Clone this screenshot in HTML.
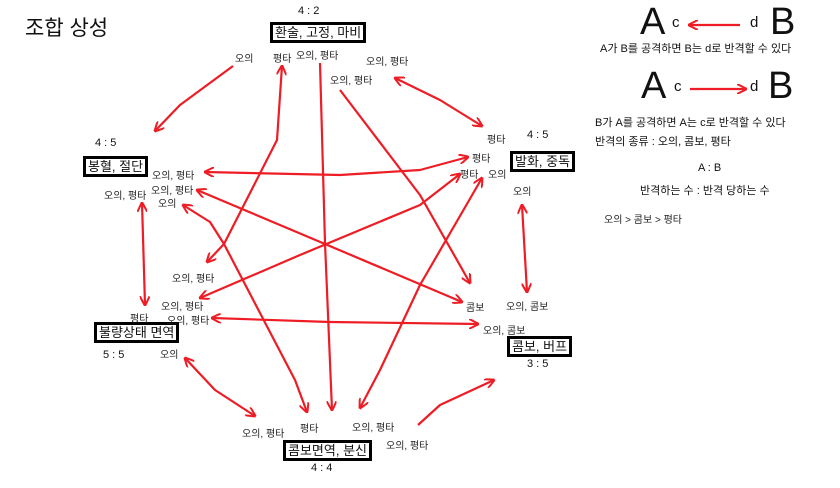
<!DOCTYPE html>
<html><head><meta charset="utf-8"><style>
body{margin:0;background:#fff;width:840px;height:488px;overflow:hidden;position:relative;font-family:"Liberation Sans","Noto Sans CJK KR","NanumGothic",sans-serif;color:#111}
.t{position:absolute;white-space:nowrap}
.s{font-size:10px;color:#222}
.box{position:absolute;border:3px solid #000;font-size:13px;padding:0 2px;line-height:15px;white-space:nowrap;background:#fff}
.r{font-size:11px}
</style></head><body>
<svg width="840" height="488" style="position:absolute;left:0;top:0">
<defs><marker id="h" viewBox="0 0 10 10" refX="9" refY="5" markerWidth="10" markerHeight="10" orient="auto-start-reverse" markerUnits="userSpaceOnUse"><polyline points="0,0 10,5 0,10" fill="none" stroke="#ee1c24" stroke-width="2"/></marker></defs>
<g fill="none" stroke="#ee1c24" stroke-width="2.2" stroke-linejoin="round">
<polyline points="233,66 180,105 155,131" marker-end="url(#h)"/>
<polyline points="207,262 224,244 277,140 282,66" marker-start="url(#h)" marker-end="url(#h)"/>
<polyline points="320,63 325,243 332,410" marker-end="url(#h)"/>
<polyline points="340,90 420,195 470,283" marker-end="url(#h)"/>
<polyline points="197,190 325,244 462,302" marker-start="url(#h)" marker-end="url(#h)"/>
<polyline points="200,298 300,255 420,205 460,174" marker-start="url(#h)" marker-end="url(#h)"/>
<polyline points="183,205 210,222 224,244 295,380 307,412" marker-start="url(#h)" marker-end="url(#h)"/>
<polyline points="205,172 340,175 420,170 468,157" marker-start="url(#h)" marker-end="url(#h)"/>
<polyline points="395,78 440,100 482,126" marker-start="url(#h)" marker-end="url(#h)"/>
<polyline points="142,203 145,305" marker-start="url(#h)" marker-end="url(#h)"/>
<polyline points="522,205 527,292" marker-start="url(#h)" marker-end="url(#h)"/>
<polyline points="360,408 380,370 420,285 482,178" marker-start="url(#h)" marker-end="url(#h)"/>
<polyline points="212,318 330,322 478,324" marker-start="url(#h)" marker-end="url(#h)"/>
<polyline points="185,358 215,390 255,416" marker-start="url(#h)" marker-end="url(#h)"/>
<polyline points="418,425 440,405 494,380" marker-end="url(#h)"/>
<polyline points="740,25 689,25" marker-end="url(#h)"/>
<polyline points="690,89 746,89" marker-end="url(#h)"/>
</g></svg>

<div class="t" style="left:25px;top:12px;font-size:21px">조합 상성</div>

<div class="t r" style="left:298px;top:5px">4 : 2</div>
<div class="box" style="left:270px;top:22px">환술, 고정, 마비</div>
<div class="t r" style="left:95px;top:137px">4 : 5</div>
<div class="box" style="left:83px;top:156px">봉혈, 절단</div>
<div class="t r" style="left:527px;top:129px">4 : 5</div>
<div class="box" style="left:510px;top:151px">발화, 중독</div>
<div class="box" style="left:94px;top:322px">불량상태 면역</div>
<div class="t r" style="left:103px;top:349px">5 : 5</div>
<div class="box" style="left:507px;top:336px">콤보, 버프</div>
<div class="t r" style="left:527px;top:358px">3 : 5</div>
<div class="box" style="left:283px;top:440px">콤보면역, 분신</div>
<div class="t r" style="left:311px;top:462px">4 : 4</div>

<div class="t s" style="left:235px;top:50px">오의</div>
<div class="t s" style="left:273px;top:50px">평타</div>
<div class="t s" style="left:296px;top:47px">오의, 평타</div>
<div class="t s" style="left:366px;top:53px">오의, 평타</div>
<div class="t s" style="left:330px;top:72px">오의, 평타</div>
<div class="t s" style="left:152px;top:167px">오의, 평타</div>
<div class="t s" style="left:151px;top:182px">오의, 평타</div>
<div class="t s" style="left:158px;top:195px">오의</div>
<div class="t s" style="left:104px;top:187px">오의, 평타</div>
<div class="t s" style="left:487px;top:131px">평타</div>
<div class="t s" style="left:472px;top:150px">평타</div>
<div class="t s" style="left:460px;top:166px">평타</div>
<div class="t s" style="left:488px;top:166px">오의</div>
<div class="t s" style="left:513px;top:183px">오의</div>
<div class="t s" style="left:172px;top:270px">오의, 평타</div>
<div class="t s" style="left:161px;top:298px">오의, 평타</div>
<div class="t s" style="left:167px;top:312px">오의, 평타</div>
<div class="t s" style="left:130px;top:310px">평타</div>
<div class="t s" style="left:160px;top:346px">오의</div>
<div class="t s" style="left:466px;top:299px">콤보</div>
<div class="t s" style="left:506px;top:298px">오의, 콤보</div>
<div class="t s" style="left:483px;top:322px">오의, 콤보</div>
<div class="t s" style="left:242px;top:425px">오의, 평타</div>
<div class="t s" style="left:300px;top:420px">평타</div>
<div class="t s" style="left:352px;top:419px">오의, 평타</div>
<div class="t s" style="left:386px;top:437px">오의, 평타</div>

<div class="t" style="left:640px;top:2px;font-size:38px;line-height:40px">A</div>
<div class="t" style="left:672px;top:14px;font-size:15px">c</div>
<div class="t" style="left:750px;top:14px;font-size:15px">d</div>
<div class="t" style="left:770px;top:2px;font-size:38px;line-height:40px">B</div>
<div class="t r" style="left:600px;top:40px">A가 B를 공격하면 B는 d로 반격할 수 있다</div>
<div class="t" style="left:641px;top:66px;font-size:38px;line-height:40px">A</div>
<div class="t" style="left:674px;top:78px;font-size:15px">c</div>
<div class="t" style="left:750px;top:78px;font-size:15px">d</div>
<div class="t" style="left:768px;top:66px;font-size:38px;line-height:40px">B</div>
<div class="t r" style="left:595px;top:114px">B가 A를 공격하면 A는 c로 반격할 수 있다</div>
<div class="t r" style="left:595px;top:133px">반격의 종류 : 오의, 콤보, 평타</div>
<div class="t r" style="left:698px;top:162px">A : B</div>
<div class="t r" style="left:640px;top:182px">반격하는 수 : 반격 당하는 수</div>
<div class="t s" style="left:604px;top:211px">오의 &gt; 콤보 &gt; 평타</div>
</body></html>
